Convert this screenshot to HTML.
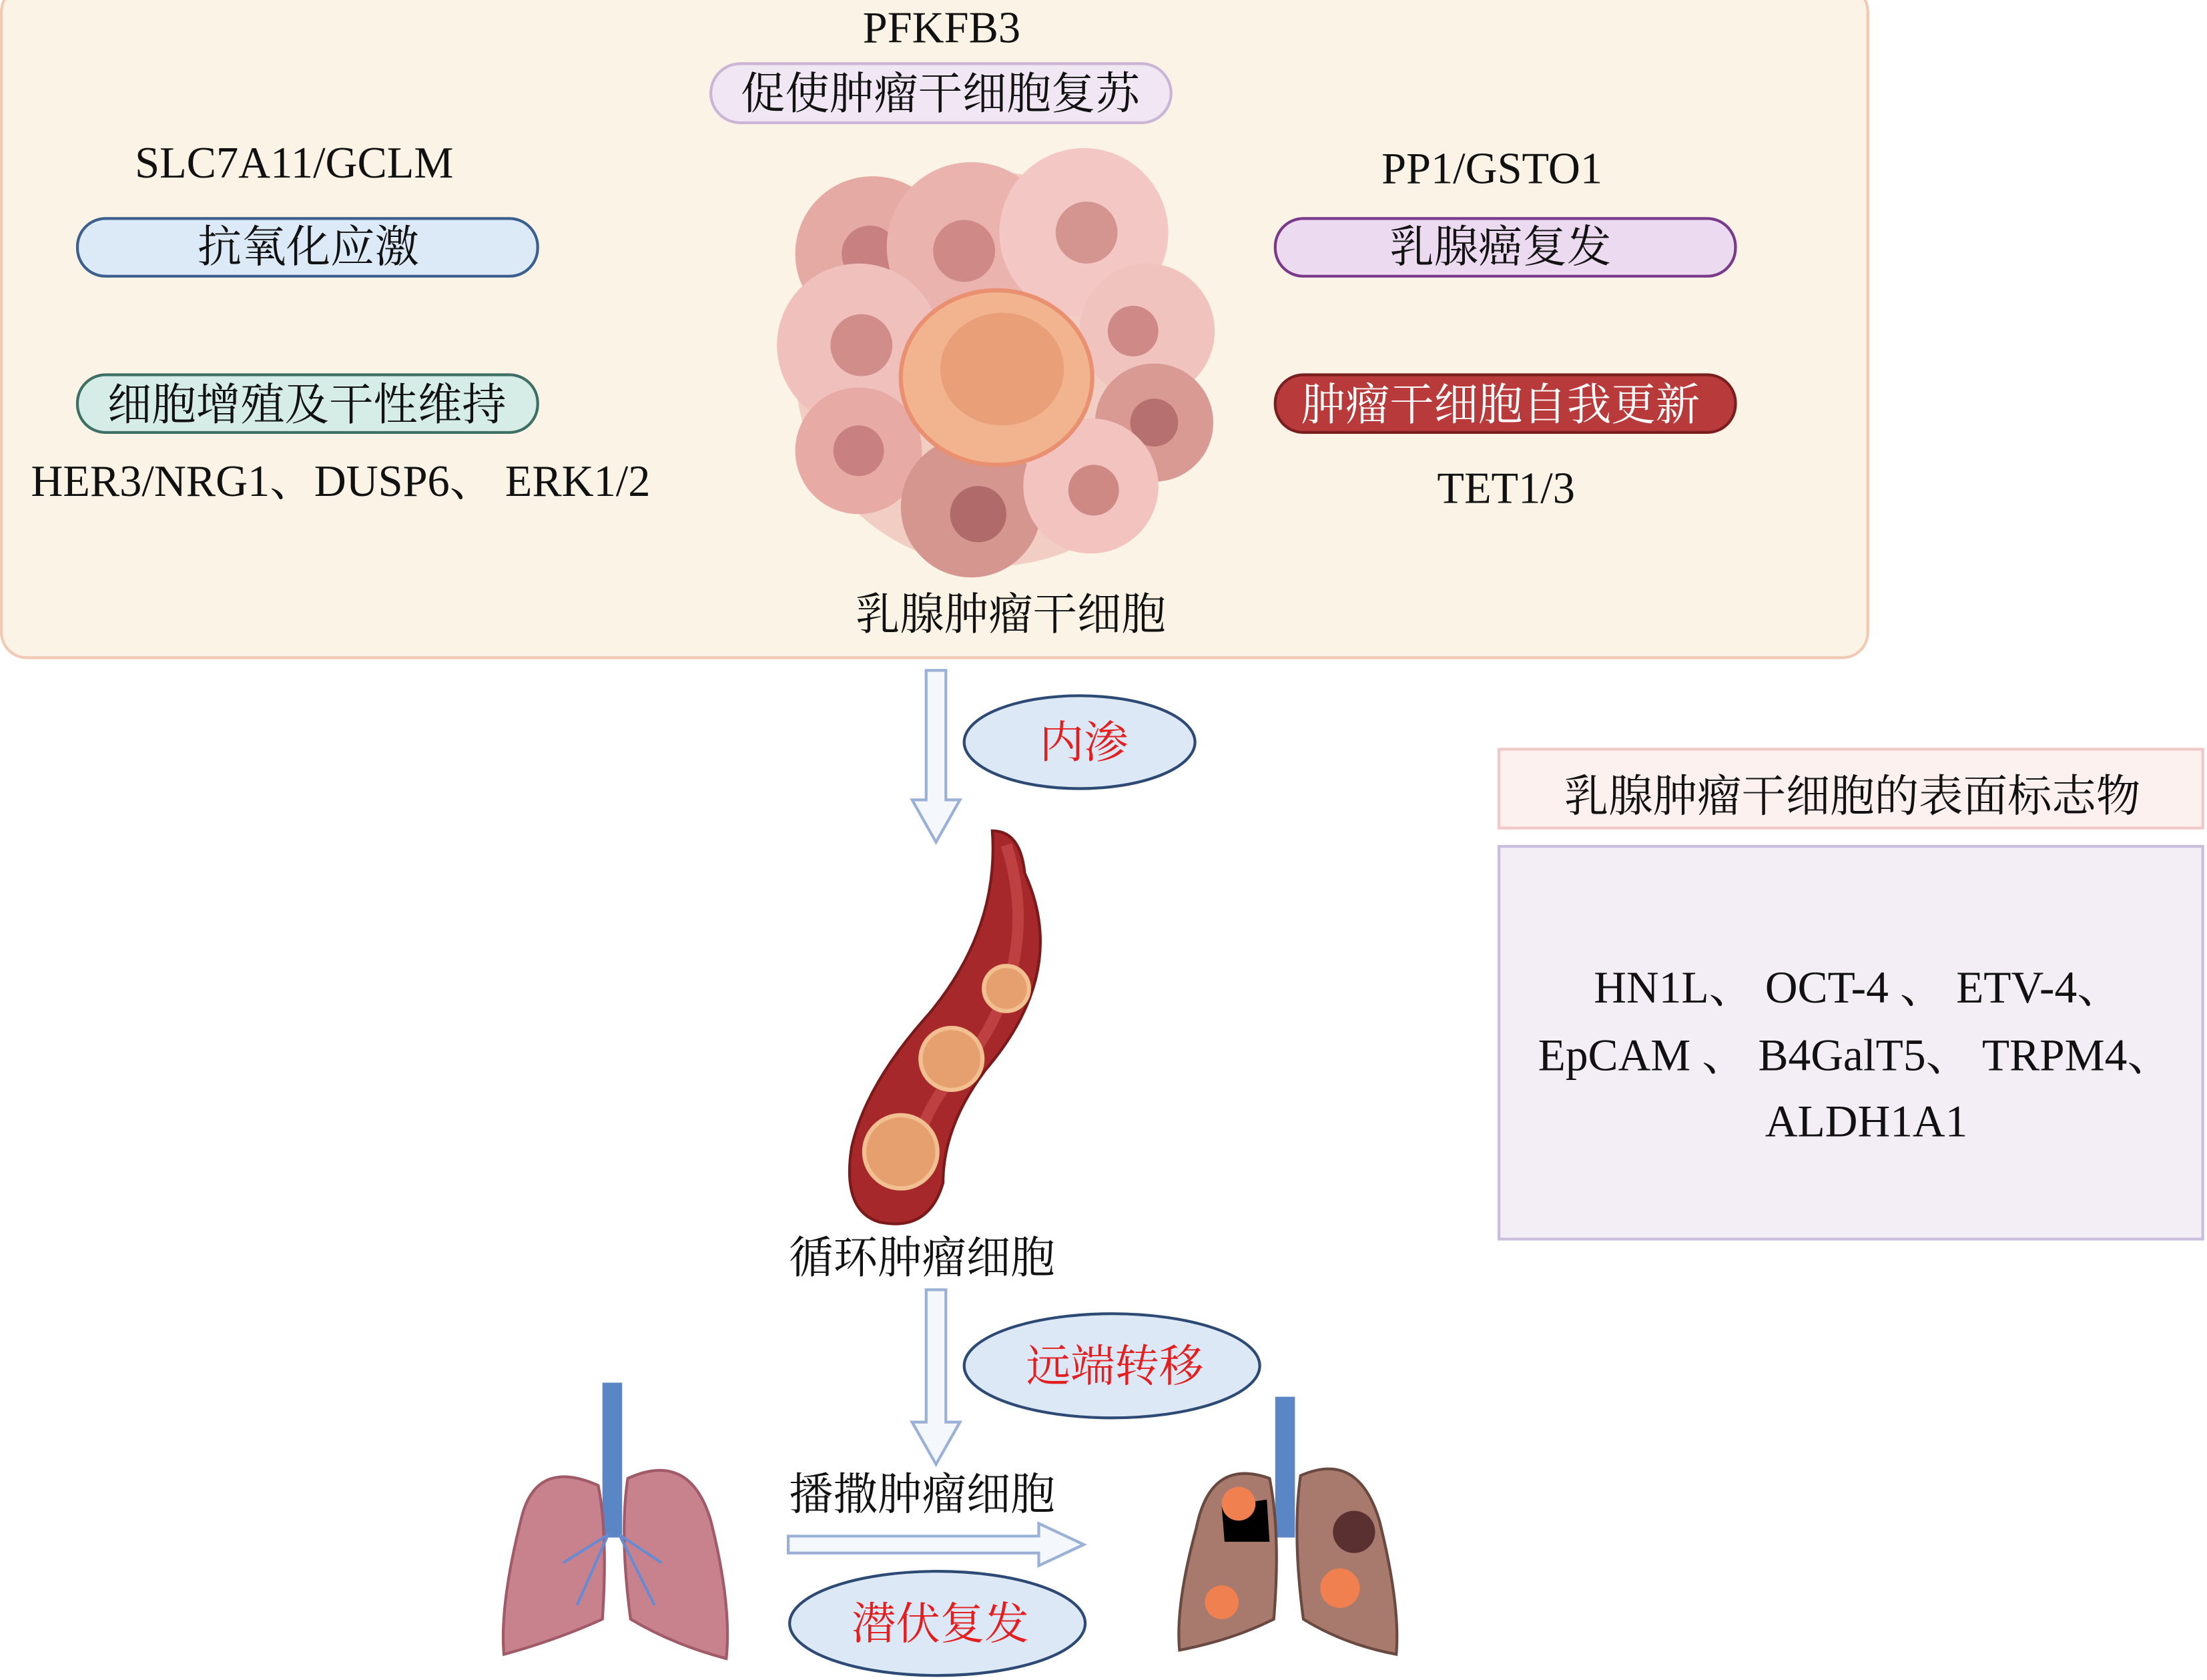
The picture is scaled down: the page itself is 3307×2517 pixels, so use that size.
<!DOCTYPE html>
<html><head><meta charset="utf-8"><style>html,body{margin:0;padding:0;background:#fff}svg{display:block}</style></head>
<body>
<svg width="3307" height="2517" viewBox="0 0 1568 1193" xmlns="http://www.w3.org/2000/svg" font-family="'Liberation Serif','Noto Serif CJK SC','Noto Sans CJK SC',serif">
<rect x="0" y="0" width="1568" height="1193" fill="#fff"/>
<rect x="1" y="-10" width="1326" height="477" rx="18" fill="#fbf3e6" stroke="#f2c9b2" stroke-width="2"/>
<g font-size="31.5" fill="#111" text-anchor="middle">
<text x="669" y="30">PFKFB3</text>
<rect x="505" y="45" width="327" height="42" rx="21" fill="#f1e6f3" stroke="#cbb5d6" stroke-width="2"/>
<text x="668" y="77">促使肿瘤干细胞复苏</text>
<text x="209" y="126">SLC7A11/GCLM</text>
<rect x="55" y="155" width="327" height="41" rx="20" fill="#dceaf8" stroke="#3b5f8e" stroke-width="2"/>
<text x="219" y="186">抗氧化应激</text>
<rect x="55" y="266" width="327" height="41" rx="20" fill="#d6ece6" stroke="#3d6f64" stroke-width="2"/>
<text x="218" y="298">细胞增殖及干性维持</text>
<text x="242" y="352">HER3/NRG1、DUSP6、 ERK1/2</text>
<text x="1060" y="130">PP1/GSTO1</text>
<rect x="906" y="155" width="327" height="41" rx="20" fill="#ecdaf0" stroke="#7a3a8a" stroke-width="2"/>
<text x="1066" y="186">乳腺癌复发</text>
<rect x="906" y="266" width="327" height="41" rx="20" fill="#b83a3a" stroke="#7a1f1f" stroke-width="2"/>
<text x="1066" y="298" fill="#fff">肿瘤干细胞自我更新</text>
<text x="1070" y="357">TET1/3</text>
<text x="718" y="447">乳腺肿瘤干细胞</text>
</g>
<g>
<circle cx="705" cy="262" r="140" fill="#e9a8a0" opacity="0.5"/>
<circle cx="620" cy="180" r="55" fill="#e6aaa4"/><circle cx="618" cy="180" r="20" fill="#c98080"/>
<circle cx="690" cy="175" r="60" fill="#eab3ad"/><circle cx="685" cy="178" r="22" fill="#cf8a88"/>
<circle cx="770" cy="165" r="60" fill="#f3c8c4"/><circle cx="772" cy="165" r="22" fill="#d49590"/>
<circle cx="610" cy="245" r="58" fill="#f0c0bc"/><circle cx="612" cy="245" r="22" fill="#d08d8a"/>
<circle cx="815" cy="235" r="48" fill="#f1c3bf"/><circle cx="805" cy="235" r="18" fill="#cf8987"/>
<circle cx="610" cy="320" r="45" fill="#e7aaa4"/><circle cx="610" cy="320" r="18" fill="#c98080"/>
<circle cx="820" cy="300" r="42" fill="#d99a94"/><circle cx="820" cy="300" r="17" fill="#b67070"/>
<circle cx="690" cy="360" r="50" fill="#d59690"/><circle cx="695" cy="365" r="20" fill="#b06a6a"/>
<circle cx="775" cy="345" r="48" fill="#f2c3bf"/><circle cx="777" cy="348" r="18" fill="#cf8985"/>
<ellipse cx="708" cy="268" rx="68" ry="62" fill="#f2b48e" stroke="#e89070" stroke-width="3"/>
<ellipse cx="712" cy="262" rx="44" ry="40" fill="#e9a078"/>
</g>
<path d="M658 476 H672 V568 H682 L665 598 L648 568 H658 Z" fill="#f4f7fc" stroke="#9bb0d6" stroke-width="2"/>
<ellipse cx="767" cy="527" rx="82" ry="33" fill="#dce8f6" stroke="#2d4a75" stroke-width="2"/>
<text x="770" y="538" font-size="31.5" fill="#e41e1e" text-anchor="middle">内渗</text>
<path d="M705 590 Q725 590 728 620 Q760 690 700 760 Q670 800 670 840 Q660 875 625 868 Q598 860 605 815 Q615 770 660 720 Q710 660 705 590 Z" fill="#a6282a" stroke="#7a1a1a" stroke-width="2"/>
<path d="M715 600 Q740 680 690 750 Q650 790 650 830" fill="none" stroke="#d05050" stroke-width="8" opacity="0.6"/>
<circle cx="715" cy="702" r="16" fill="#e6a070" stroke="#f2c090" stroke-width="3"/>
<circle cx="676" cy="752" r="22" fill="#e6a070" stroke="#f2c090" stroke-width="3"/>
<circle cx="640" cy="818" r="26" fill="#e6a070" stroke="#f2c090" stroke-width="3"/>
<text x="655" y="904" font-size="31.5" fill="#111" text-anchor="middle">循环肿瘤细胞</text>
<path d="M658 916 H672 V1010 H682 L665 1040 L648 1010 H658 Z" fill="#f4f7fc" stroke="#9bb0d6" stroke-width="2"/>
<ellipse cx="790" cy="970" rx="105" ry="37" fill="#dce8f6" stroke="#2d4a75" stroke-width="2"/>
<text x="792" y="981" font-size="31.5" fill="#e41e1e" text-anchor="middle">远端转移</text>
<text x="655" y="1072" font-size="31.5" fill="#111" text-anchor="middle">播撒肿瘤细胞</text>
<path d="M560 1091 H738 V1082 L770 1097 L738 1112 V1103 H560 Z" fill="#f4f7fc" stroke="#9bb0d6" stroke-width="2"/>
<ellipse cx="666" cy="1153" rx="105" ry="37" fill="#dce8f6" stroke="#2d4a75" stroke-width="2"/>
<text x="668" y="1164" font-size="31.5" fill="#e41e1e" text-anchor="middle">潜伏复发</text>
<g>
<rect x="428" y="982" width="14" height="110" fill="#5a86c6"/>
<path d="M425 1055 Q380 1035 370 1080 Q355 1140 358 1175 Q395 1165 428 1150 Q432 1090 425 1055 Z" fill="#c8828e" stroke="#a05a68" stroke-width="2"/>
<path d="M446 1050 Q490 1030 505 1080 Q520 1140 516 1178 Q478 1168 448 1150 Q440 1090 446 1050 Z" fill="#c8828e" stroke="#a05a68" stroke-width="2"/>
<path d="M432 1090 L400 1110 M432 1090 L410 1140 M440 1090 L470 1110 M440 1090 L465 1140" stroke="#6a8ad0" stroke-width="2"/>
</g>
<g>
<rect x="906" y="992" width="14" height="100" fill="#5a86c6"/>
<path d="M902 1050 Q860 1035 850 1085 Q835 1140 838 1172 Q875 1165 905 1150 Q910 1090 902 1050 Z" fill="#a87a6e" stroke="#6a4a40" stroke-width="2"/>
<path d="M924 1048 Q965 1030 980 1080 Q995 1140 992 1175 Q955 1168 926 1150 Q918 1090 924 1048 Z" fill="#a87a6e" stroke="#6a4a40" stroke-width="2"/>
<path d="M868 1070 L900 1065 L902 1095 L870 1095 Z" fill="#000"/>
<circle cx="880" cy="1068" r="12" fill="#f08050"/>
<circle cx="962" cy="1088" r="15" fill="#5a3030"/>
<circle cx="952" cy="1128" r="14" fill="#f08050"/>
<circle cx="868" cy="1138" r="12" fill="#f08050"/>
</g>
<rect x="1065" y="532" width="500" height="56" fill="#fdf1f0" stroke="#f0c8c8" stroke-width="2"/>
<text x="1316" y="576" font-size="31.5" fill="#111" text-anchor="middle">乳腺肿瘤干细胞的表面标志物</text>
<rect x="1065" y="601" width="500" height="279" fill="#f3eef6" stroke="#c9bedb" stroke-width="2"/>
<g font-size="32" fill="#111" text-anchor="middle">
<text x="1320" y="712">HN1L、 OCT-4 、 ETV-4、</text>
<text x="1318" y="760">EpCAM 、 B4GalT5、 TRPM4、</text>
<text x="1326" y="807">ALDH1A1</text>
</g>
</svg>
</body></html>
